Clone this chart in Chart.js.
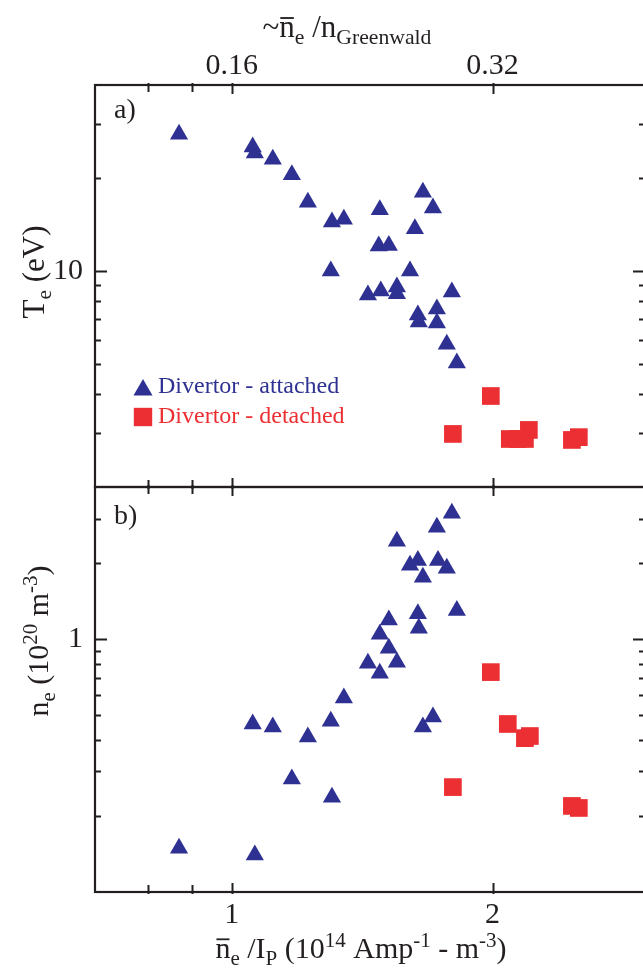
<!DOCTYPE html>
<html>
<head>
<meta charset="utf-8">
<title>Te and ne versus density / plasma current</title>
<script src="https://cdn.jsdelivr.net/npm/chart.js"></script>
<style>
  * { margin: 0; padding: 0; }
  body { background: #fff; overflow: hidden; }
  .frame { position: relative; width: 643px; height: 974px; overflow: hidden; }
  .frame canvas { position: absolute; left: 0; top: 0; }
</style>
</head>
<body>
<div class="frame">
  <canvas id="teChart" width="650" height="974"></canvas>
  <canvas id="neChart" width="650" height="974"></canvas>
</div>
<script>
// n_e / I_P (10^14 A^-1 m^-3) and divertor Te (eV), attached shots
const teAttachedX = [0.869, 1.057, 1.063, 1.115, 1.173, 1.224, 1.305, 1.347, 1.301, 1.482,
                     1.478, 1.518, 1.436, 1.486, 1.551, 1.551, 1.606, 1.627, 1.662, 1.707,
                     1.640, 1.644, 1.725, 1.725, 1.795, 1.771, 1.819];
const teAttachedY = [27.7, 25.2, 24.1, 23.0, 20.5, 16.7, 14.4, 14.7, 10.0, 15.8,
                     12.05, 12.1, 8.36, 8.61, 8.87, 8.45, 10.0, 13.7, 18.0, 16.0,
                     7.21, 6.84, 7.54, 6.79, 8.55, 5.80, 5.04];
// detached shots
const teDetachedX = [1.991, 1.800, 2.094, 2.139, 2.180, 2.203, 2.470, 2.516];
const teDetachedY = [3.94, 2.97, 2.86, 2.86, 2.86, 3.06, 2.84, 2.90];

// divertor ne (10^20 m^-3)
const neAttachedX = [0.869, 1.063, 1.057, 1.115, 1.173, 1.224, 1.301, 1.305, 1.347, 1.436,
                     1.482, 1.482, 1.518, 1.518, 1.551, 1.551, 1.606, 1.640, 1.640, 1.644,
                     1.662, 1.725, 1.730, 1.771, 1.795, 1.819, 1.662, 1.707];
const neAttachedY = [0.149, 0.140, 0.462, 0.449, 0.280, 0.410, 0.474, 0.237, 0.585, 0.804,
                     0.734, 1.046, 0.921, 1.19, 0.811, 2.44, 1.96, 2.05, 1.26, 1.105,
                     1.76, 2.77, 2.05, 1.91, 3.15, 1.30, 0.449, 0.492];
const neDetachedX = [1.991, 1.800, 2.083, 2.180, 2.209, 2.470, 2.516];
const neDetachedY = [0.741, 0.260, 0.462, 0.406, 0.414, 0.219, 0.215];

// axis ticks
const xMajor = [1, 2];
const xMinor = [0.8, 0.9];
const xTopLabels = ['0.16', '0.32'];
const teMajor = [10];
const teMinor = [3, 4, 5, 6, 7, 8, 9, 20, 30];
const neMajor = [1];
const neMinor = [0.2, 0.3, 0.4, 0.5, 0.6, 0.7, 0.8, 0.9, 2, 3];

const BLUE = '#2e3192';
const RED = '#ec2f32';
const INK = '#231f20';
const SERIF = '"Liberation Serif", "Times New Roman", serif';

// draw a run of text pieces with sub/superscripts; centred on (cx, cy)
function richText(ctx, parts, cx, cy, size, color, angle) {
  ctx.save();
  ctx.translate(cx, cy);
  if (angle) ctx.rotate(angle);
  ctx.fillStyle = color;
  ctx.strokeStyle = color;
  ctx.textBaseline = 'alphabetic';
  ctx.textAlign = 'left';
  const small = size * 0.7;
  let total = 0;
  const widths = parts.map(p => {
    ctx.font = (p.s ? small : size) + 'px ' + SERIF;
    const w = ctx.measureText(p.t).width;
    total += w;
    return w;
  });
  let x = -total / 2;
  const base = size * 0.33;
  parts.forEach((p, i) => {
    ctx.font = (p.s ? small : size) + 'px ' + SERIF;
    let y = base;
    if (p.s === 'sub') y += size * 0.22;
    if (p.s === 'sup') y -= size * 0.38;
    ctx.fillText(p.t, x, y);
    if (p.bar) {
      ctx.lineWidth = size * 0.06;
      ctx.beginPath();
      ctx.moveTo(x + 1, y - size * 0.62);
      ctx.lineTo(x + widths[i] - 1, y - size * 0.62);
      ctx.stroke();
    }
    x += widths[i];
  });
  ctx.restore();
}

function plainText(ctx, text, x, y, size, color, align) {
  ctx.save();
  ctx.font = size + 'px ' + SERIF;
  ctx.fillStyle = color;
  ctx.textAlign = align;
  ctx.textBaseline = 'middle';
  ctx.fillText(text, x, y);
  ctx.restore();
}

function marker(ctx, style, x, y, r, color) {
  ctx.save();
  ctx.fillStyle = color;
  ctx.beginPath();
  if (style === 'triangle') {
    ctx.moveTo(x, y - r);
    ctx.lineTo(x + r * Math.sqrt(3) / 2, y + r / 2);
    ctx.lineTo(x - r * Math.sqrt(3) / 2, y + r / 2);
    ctx.closePath();
  } else {
    const h = r * Math.SQRT1_2;
    ctx.rect(x - h, y - h, 2 * h, 2 * h);
  }
  ctx.fill();
  ctx.restore();
}

// frame and inward-pointing ticks on all four sides
function frameAndTicks(chart, yMajor, yMinor) {
  const ctx = chart.ctx;
  const a = chart.chartArea;
  const xs = chart.scales.x, ys = chart.scales.y;
  ctx.save();
  ctx.strokeStyle = INK;
  ctx.lineWidth = 2.2;
  ctx.strokeRect(a.left, a.top, a.right - a.left, a.bottom - a.top);
  ctx.lineWidth = 2;
  ctx.beginPath();
  const yTick = (v, len) => {
    const p = Math.round(ys.getPixelForValue(v)) + 0.5;
    ctx.moveTo(a.left, p); ctx.lineTo(a.left + len, p);
    ctx.moveTo(a.right, p); ctx.lineTo(a.right - len, p);
  };
  yMajor.forEach(v => yTick(v, 12));
  yMinor.forEach(v => yTick(v, 6));
  const xTick = (v, len) => {
    const p = Math.round(xs.getPixelForValue(v)) + 0.5;
    ctx.moveTo(p, a.bottom + 2); ctx.lineTo(p, a.bottom - len);
    ctx.moveTo(p, a.top - 2); ctx.lineTo(p, a.top + len);
  };
  xMajor.forEach(v => xTick(v, 9));
  xMinor.forEach(v => xTick(v, 7));
  ctx.stroke();
  ctx.restore();
}

const tePanel = {
  id: 'tePanel',
  afterDraw(chart) {
    const ctx = chart.ctx;
    const a = chart.chartArea;
    const xs = chart.scales.x, ys = chart.scales.y;
    frameAndTicks(chart, teMajor, teMinor);
    teMajor.forEach(v => plainText(ctx, String(v), a.left - 12, ys.getPixelForValue(v), 30, INK, 'right'));
    xMajor.forEach((v, i) => plainText(ctx, xTopLabels[i], xs.getPixelForValue(v), 66, 30, INK, 'center'));
    richText(ctx, [{t: '~'}, {t: 'n', bar: true}, {t: 'e', s: 'sub'}, {t: ' /n'}, {t: 'Greenwald', s: 'sub'}],
             347, 27, 31, INK, 0);
    richText(ctx, [{t: 'T'}, {t: 'e', s: 'sub'}, {t: ' (eV)'}], 34, 272, 31, INK, -Math.PI / 2);
    plainText(ctx, 'a)', 114, 111, 28, INK, 'left');
    // legend
    marker(ctx, 'triangle', 143, 390, 11, BLUE);
    plainText(ctx, 'Divertor - attached', 158, 387, 24, BLUE, 'left');
    marker(ctx, 'rect', 143, 417, 13, RED);
    plainText(ctx, 'Divertor - detached', 158, 417, 24, RED, 'left');
  }
};

const nePanel = {
  id: 'nePanel',
  afterDraw(chart) {
    const ctx = chart.ctx;
    const a = chart.chartArea;
    const xs = chart.scales.x, ys = chart.scales.y;
    frameAndTicks(chart, neMajor, neMinor);
    neMajor.forEach(v => plainText(ctx, String(v), a.left - 12, ys.getPixelForValue(v), 30, INK, 'right'));
    xMajor.forEach(v => plainText(ctx, String(v), xs.getPixelForValue(v), 915, 30, INK, 'center'));
    richText(ctx, [{t: 'n', bar: true}, {t: 'e', s: 'sub'}, {t: ' /I'}, {t: 'P', s: 'sub'}, {t: ' (10'},
                   {t: '14', s: 'sup'}, {t: ' Amp'}, {t: '-1', s: 'sup'}, {t: ' - m'}, {t: '-3', s: 'sup'}, {t: ')'}],
             361, 948, 30, INK, 0);
    richText(ctx, [{t: 'n'}, {t: 'e', s: 'sub'}, {t: ' (10'}, {t: '20', s: 'sup'}, {t: ' m'}, {t: '-3', s: 'sup'}, {t: ')'}],
             38, 641, 30, INK, -Math.PI / 2);
    plainText(ctx, 'b)', 114, 517, 28, INK, 'left');
  }
};

function points(xs, ys) {
  return xs.map((x, i) => ({x: x, y: ys[i]}));
}

function panelConfig(attX, attY, detX, detY, yMin, yMax, padding, decor) {
  return {
    type: 'scatter',
    data: {
      datasets: [{
        label: 'Divertor - attached',
        data: points(attX, attY),
        pointStyle: 'triangle',
        pointRadius: 10.5,
        borderWidth: 0,
        backgroundColor: BLUE,
        borderColor: BLUE
      }, {
        label: 'Divertor - detached',
        data: points(detX, detY),
        pointStyle: 'rect',
        pointRadius: 12.5,
        borderWidth: 0,
        backgroundColor: RED,
        borderColor: RED
      }]
    },
    options: {
      responsive: false,
      animation: false,
      events: [],
      layout: { padding: padding, autoPadding: false },
      scales: {
        x: { type: 'logarithmic', min: 0.695, max: 3.0, display: false },
        y: { type: 'logarithmic', min: yMin, max: yMax, display: false }
      },
      plugins: {
        legend: { display: false },
        tooltip: { enabled: false }
      }
    },
    plugins: [decor]
  };
}

const teChart = new Chart(
  document.getElementById('teChart'),
  panelConfig(teAttachedX, teAttachedY, teDetachedX, teDetachedY, 2, 40,
              { left: 95, right: 5, top: 85, bottom: 487 }, tePanel)
);
const neChart = new Chart(
  document.getElementById('neChart'),
  panelConfig(neAttachedX, neAttachedY, neDetachedX, neDetachedY, 0.1, 4,
              { left: 95, right: 5, top: 487, bottom: 82 }, nePanel)
);
</script>
</body>
</html>
